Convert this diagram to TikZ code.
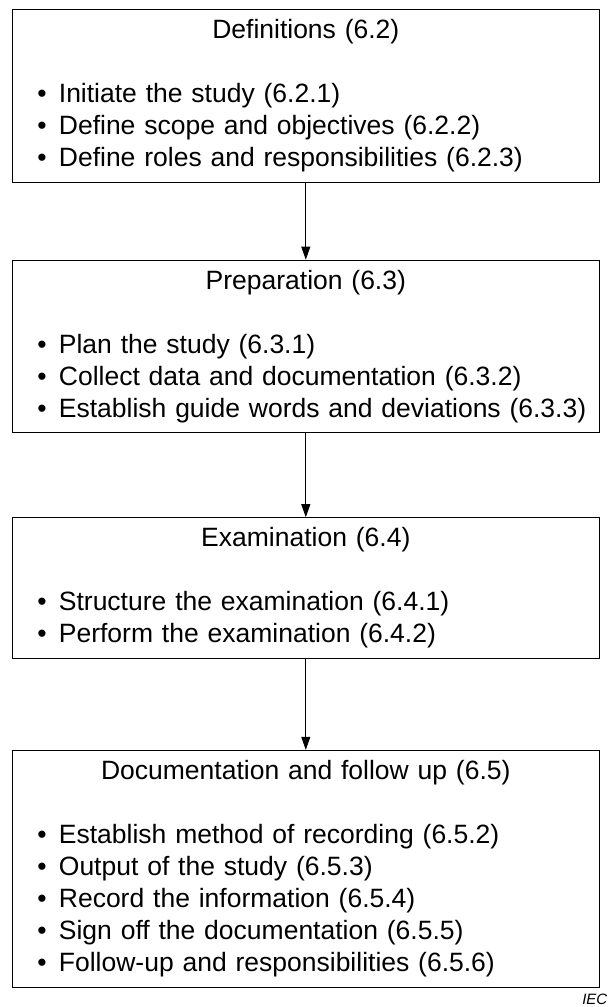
\documentclass[tikz,border=0pt]{standalone}
\usepackage{fontspec}
\setmainfont{Liberation Sans}
\usetikzlibrary{arrows.meta, positioning}

\newcommand\stageitem{\hspace*{12.9pt}\textbullet\hspace{0.46em}}
\newcommand\stagetitle[1]{{\centering #1\par}\vspace{\baselineskip}}

\begin{document}
\begin{tikzpicture}[
            x=1pt, y=1pt,
            stagebox/.style={rectangle, draw, line width=0.9pt, text width=562.5pt, inner xsep=12pt, inner ysep=10pt, align=left, font=\fontsize{26.5}{32}\selectfont},
            line/.style={draw, -{Triangle[length=13pt, width=9pt]}, line width=0.8pt}
        ]
            \useasboundingbox (0,0) rectangle (608,-1007);

            % Stages
            \node [stagebox, anchor=north] (defs) at (305.8,-9) {\stagetitle{Definitions (6.2)}
                \stageitem Initiate the study (6.2.1)\\
                \stageitem Define scope and objectives (6.2.2)\\
                \stageitem Define roles and responsibilities (6.2.3)};
            \node [stagebox, below=77pt of defs] (prep) {\stagetitle{Preparation (6.3)}
                \stageitem Plan the study (6.3.1)\\
                \stageitem Collect data and documentation (6.3.2)\\
                \stageitem Establish guide words and deviations (6.3.3)};
            \node [stagebox, below=84pt of prep] (exam) {\stagetitle{Examination (6.4)}
                \stageitem Structure the examination (6.4.1)\\
                \stageitem Perform the examination (6.4.2)};
            \node [stagebox, below=91pt of exam] (docs) {\stagetitle{Documentation and follow up (6.5)}
                \stageitem Establish method of recording (6.5.2)\\
                \stageitem Output of the study (6.5.3)\\
                \stageitem Record the information (6.5.4)\\
                \stageitem Sign off the documentation (6.5.5)\\
                \stageitem Follow-up and responsibilities (6.5.6)};

            % Source mark
            \node [anchor=south east, inner sep=0pt, font=\fontsize{15}{15}\selectfont\itshape] (iec) at (607.5,-1005) {IEC};

            % Edges
            \path [line] (defs) -- (prep);
            \path [line] (prep) -- (exam);
            \path [line] (exam) -- (docs);
        \end{tikzpicture}
\end{document}
